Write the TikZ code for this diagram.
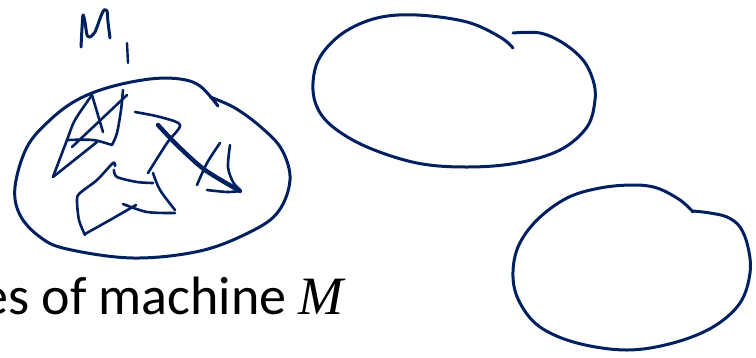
\documentclass[tikz,border=0pt]{standalone}
\usepackage{fontspec}
\setmainfont{Carlito}
\newfontfamily\mathserif{Liberation Serif}
\usetikzlibrary{calc}
\definecolor{inkblue}{RGB}{0,32,96}

\begin{document}
\begin{tikzpicture}[x=1pt, y=-1pt,
	ink/.style={draw=inkblue, line width=3pt, line cap=round, line join=round},
	scrib/.style={ink, line width=2.6pt}]
	% 画布范围
	\useasboundingbox (0,0) rectangle (756,357);
	\clip (0,0) rectangle (756,357);
	
	% 左边的集合 M_1
	\draw[ink] plot[smooth, tension=0.6] coordinates {(218,106) (200,86) (180,79) (150,79) (110,87) (77,100) (50,120) (27,147) (15,187) (20,215) (40,237) (67,249) (133,258) (200,251) (250,232) (278,212) (290,180) (282,150) (262,128) (235,108) (210,97)};
	
	% 手写标签 M_1
	\draw[ink, line width=3pt] plot[smooth, tension=0.4] coordinates {(81,47) (82,28) (83,15) (85,22) (87,35) (90,37) (95,32) (101,16) (104,10) (107,11) (108,22) (110,38)};
	\draw[ink, line width=2.4pt] (127,43) -- (128,63);
	
	% 集合里的涂画
	\draw[scrib] plot[smooth, tension=0.5] coordinates {(92,95) (75,120) (67,140) (53,177)};
	\draw[scrib] (92,95) -- (103,132);
	\draw[scrib] (127,95) -- (72,147);
	\draw[scrib] plot[smooth, tension=0.5] coordinates {(123,90) (121,110) (117,133) (112,145)};
	\draw[scrib] plot[smooth, tension=0.5] coordinates {(68,140) (93,140) (112,145)};
	\draw[scrib] (97,142) -- (53,177);
	\draw[scrib] plot[smooth, tension=0.5] coordinates {(135,112) (160,117) (180,125) (167,143) (148,173)};
	\draw[ink, line width=4.4pt] plot[smooth, tension=0.5] coordinates {(158,125) (178,146) (205,170) (240,191)};
	\draw[scrib] plot[smooth, tension=0.5] coordinates {(220,143) (207,163) (197,185)};
	\draw[scrib] plot[smooth, tension=0.5] coordinates {(230,145) (228,167) (233,182) (240,190)};
	\draw[scrib] plot[smooth, tension=0.5] coordinates {(207,190) (227,192) (240,191)};
	\draw[scrib] plot[smooth, tension=0.5] coordinates {(115,166) (113,163) (97,180) (80,193) (77,200) (79,220) (85,235)};
	\draw[scrib] plot[smooth, tension=0.5] coordinates {(85,234) (110,220) (136,205)};
	\draw[scrib] plot[smooth, tension=0.5] coordinates {(123,204) (147,212) (175,213)};
	\draw[scrib] plot[smooth, tension=0.5] coordinates {(114,170) (117,177) (137,182) (153,183)};
	\draw[scrib] plot[smooth, tension=0.5] coordinates {(153,173) (160,190) (175,210)};
	
	% 右上的集合
	\draw[ink] plot[smooth, tension=0.6] coordinates {(513,48) (500,37) (467,22) (417,15) (377,18) (343,33) (320,57) (313,83) (317,107) (333,127) (367,147) (417,163) (467,167) (517,163) (560,150) (587,127) (595,100) (593,80) (583,60) (563,43) (540,33) (513,33)};
	
	% 右下的集合
	\draw[ink] plot[smooth, tension=0.6] coordinates {(693,212) (680,200) (657,188) (633,185) (600,188) (567,198) (537,220) (518,247) (513,277) (520,303) (540,327) (577,343) (627,350) (673,343) (713,327) (740,303) (750,273) (748,247) (740,227) (727,217) (710,213) (693,211)};
	
	% 文字说明
	\node[anchor=base east, inner sep=0pt, font=\fontsize{54}{64}\selectfont] (caption) at (344,314) {es of machine {\mathserif\itshape M}};
\end{tikzpicture}
\end{document}
